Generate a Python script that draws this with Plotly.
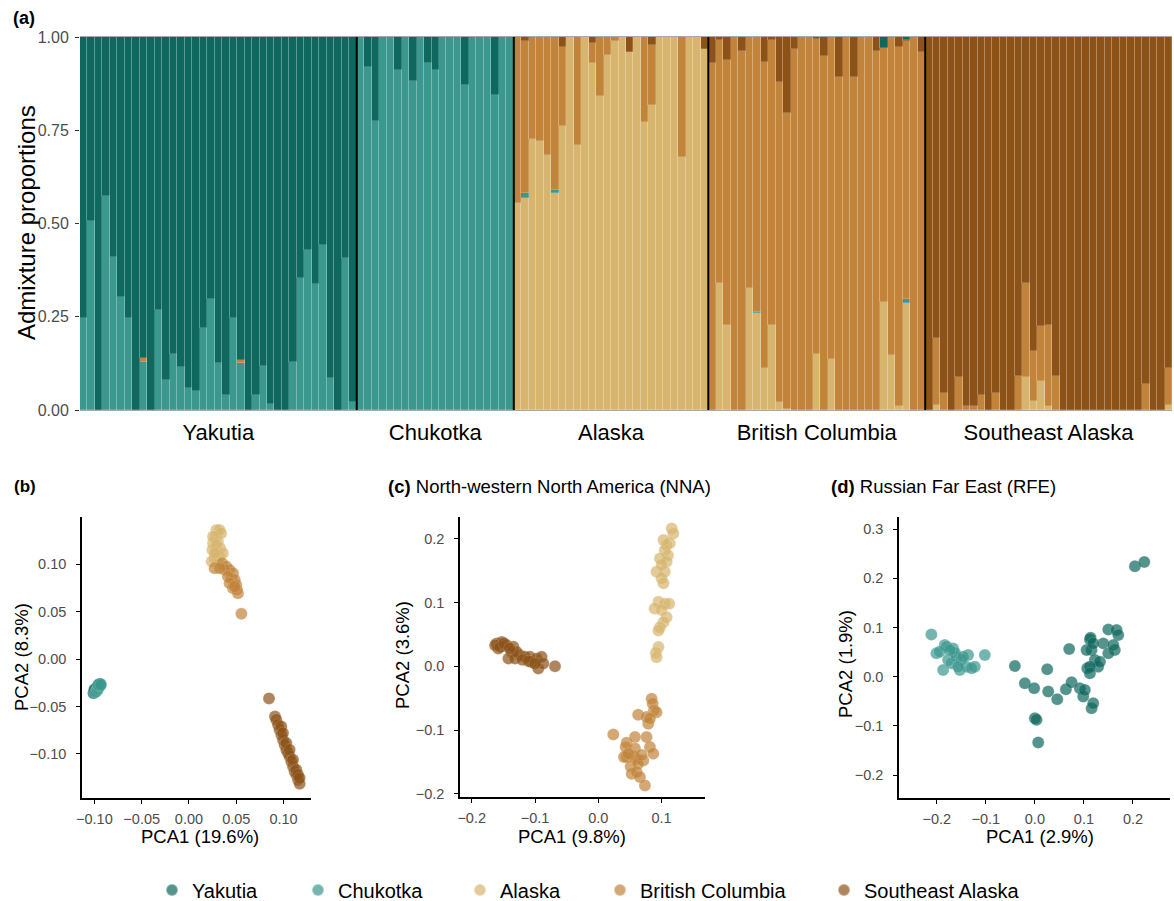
import plotly.graph_objects as go

W, H = 1174, 901
FONT = "Liberation Sans, Arial, sans-serif"

# ---------------- colours ----------------
C_YAK = "#0E685E"
C_CHUK = "#3A988E"
C_ALA = "#D7B56E"
C_BC = "#C1843A"
C_SEA = "#8C5218"

# ---------------- panel (a): admixture ----------------
groups = ["Yakutia", "Chukotka", "Alaska", "British Columbia", "Southeast Alaska"]
group_sizes = [37, 21, 26, 29, 33]

q_alaska = (
    [0] * 37
    + [0] * 21
    + [0.554, 0.569, 0.726, 0.722, 0.684, 0.583, 0.761, 1.0, 0.71, 1.0, 0.929, 0.842, 0.952,
       0.99, 1.0, 0.959, 1.0, 0.771, 0.817, 1.0, 1.0, 1.0, 0.679, 1.0, 1.0, 0.967]
    + [0, 0.341, 0.228, 0, 0, 0.326, 0.259, 0.112, 0.228, 0.022, 0.003, 0, 0, 0, 0.15, 0,
       0.137, 0, 0, 0, 0, 0, 0, 0.289, 0.147, 0.011, 0.288, 0, 0]
    + [0, 0.013, 0, 0, 0, 0, 0, 0, 0, 0, 0, 0, 0, 0.089, 0.024, 0.078, 0.011, 0, 0, 0, 0, 0,
       0, 0, 0, 0, 0, 0, 0, 0, 0, 0, 0.013]
)
q_chukotka = (
    [0.246, 0.507, 0, 0.575, 0.411, 0.304, 0.248, 0, 0.128, 0, 0.268, 0.08, 0.15, 0.116, 0.058,
     0.052, 0.219, 0.297, 0.125, 0.04, 0.248, 0.125, 0, 0.04, 0.119, 0.015, 0, 0, 0.128, 0.353,
     0.429, 0.338, 0.442, 0.085, 0, 0.407, 0.022]
    + [1, 0.92, 0.776, 1, 1, 0.912, 1, 0.883, 1, 0.93, 0.912, 1, 1, 1, 0.871, 1, 1, 1, 0.845, 1, 1]
    + [0, 0.012, 0, 0, 0, 0.008, 0, 0, 0, 0, 0, 0, 0, 0, 0, 0, 0, 0, 0, 0, 0, 0, 0, 0, 0, 0]
    + [0, 0, 0, 0, 0, 0, 0.005, 0, 0, 0, 0, 0, 0, 0, 0, 0, 0, 0, 0, 0, 0, 0, 0, 0, 0, 0, 0.009, 0, 0]
    + [0] * 33
)
q_bc = (
    [0, 0, 0, 0, 0, 0, 0, 0, 0.012, 0, 0, 0, 0, 0, 0, 0, 0, 0, 0, 0, 0, 0.008, 0, 0, 0, 0, 0,
     0, 0, 0, 0, 0, 0, 0, 0, 0, 0]
    + [0] * 21
    + [0.446, 0.409, 0.274, 0.278, 0.316, 0.409, 0.211, 0, 0.29, 0, 0.056, 0.158, 0.048, 0.01,
       0, 0, 0, 0.229, 0.162, 0, 0, 0, 0.321, 0, 0, 0]
    + [0.929, 0.651, 0.71, 1.0, 0.963, 0.674, 0.736, 0.82, 0.764, 0.858, 0.794, 0.968, 1.0, 1.0,
       0.844, 0.95, 0.863, 0.892, 1.0, 0.892, 1.0, 1.0, 0.963, 0.681, 0.853, 0.961, 0.693, 1.0, 0.959]
    + [0, 0.179, 0.046, 0, 0.089, 0.011, 0.01, 0.04, 0, 0.045, 0, 0, 0.092, 0.252, 0.134, 0.147,
       0.217, 0.092, 0, 0, 0, 0, 0, 0, 0, 0, 0, 0, 0, 0.071, 0, 0, 0.1]
)
q_sea = (
    [0] * 37
    + [0] * 21
    + [0, 0.01, 0, 0, 0, 0, 0.028, 0, 0, 0, 0.015, 0, 0, 0, 0, 0.041, 0, 0, 0.021, 0, 0, 0, 0,
       0, 0, 0.033]
    + [0.071, 0.008, 0.062, 0, 0.037, 0, 0, 0.068, 0.008, 0.12, 0.203, 0.032, 0, 0, 0.006, 0.05,
       0, 0.108, 0, 0.108, 0, 0, 0.037, 0, 0, 0.028, 0.003, 0, 0.041]
    + [1, 0.808, 0.954, 1, 0.911, 0.989, 0.99, 0.96, 1, 0.955, 1, 1, 0.908, 0.659, 0.842, 0.775,
       0.772, 0.908, 1, 1, 1, 1, 1, 1, 1, 1, 1, 1, 1, 0.929, 1, 1, 0.887]
)
q_yakutia = (
    [0.754, 0.493, 1.0, 0.425, 0.589, 0.696, 0.752, 1.0, 0.86, 1.0, 0.732, 0.92, 0.85, 0.884,
     0.942, 0.948, 0.781, 0.703, 0.875, 0.96, 0.752, 0.867, 1.0, 0.96, 0.881, 0.985, 1.0, 1.0,
     0.872, 0.647, 0.571, 0.662, 0.558, 0.915, 1.0, 0.593, 0.978]
    + [0, 0.08, 0.224, 0, 0, 0.088, 0, 0.117, 0, 0.07, 0.088, 0, 0, 0, 0.129, 0, 0, 0, 0.155, 0, 0]
    + [0] * 26
    + [0, 0, 0, 0, 0, 0, 0, 0, 0, 0, 0, 0, 0, 0, 0, 0, 0, 0, 0, 0, 0, 0, 0, 0.03, 0, 0, 0.007, 0, 0]
    + [0] * 33
)

# ---------------- PCA (b): all populations ----------------
b_yak_x = [-0.101, -0.100, -0.099, -0.098, -0.097, -0.096, -0.095, -0.094, -0.100, -0.097]
b_yak_y = [-0.036, -0.034, -0.033, -0.031, -0.030, -0.029, -0.027, -0.026, -0.032, -0.033]
b_chuk_x = [-0.099, -0.098, -0.097, -0.096, -0.095, -0.094, -0.096, -0.093]
b_chuk_y = [-0.035, -0.034, -0.032, -0.031, -0.029, -0.028, -0.027, -0.027]
b_ala_x = [0.029, 0.0324, 0.0282, 0.0306, 0.0254, 0.0331, 0.029, 0.0247, 0.0324, 0.0271, 0.0306,
           0.024, 0.034, 0.0254, 0.029, 0.0359, 0.0271]
b_ala_y = [0.1364, 0.1364, 0.1294, 0.124, 0.1223, 0.117, 0.1136, 0.1153, 0.1083, 0.1065, 0.103,
           0.103, 0.1329, 0.1294, 0.1206, 0.1118, 0.1118]
b_bc_x = [0.0271, 0.0352, 0.0394, 0.0429, 0.0465, 0.0447, 0.0483, 0.05, 0.0465, 0.0518, 0.0554,
          0.0377, 0.0412, 0.0508, 0.0324, 0.0429, 0.0483]
b_bc_y = [0.096, 0.1013, 0.0978, 0.0942, 0.0907, 0.0854, 0.0837, 0.0784, 0.0749, 0.0696, 0.0478,
          0.0942, 0.0872, 0.0731, 0.096, 0.0802, 0.0766]
b_sea_x = [0.0846, 0.0909, 0.0923, 0.0941, 0.0958, 0.0976, 0.0994, 0.1011, 0.1029, 0.1047, 0.1064,
           0.1082, 0.11, 0.1117, 0.1135, 0.1153, 0.117, 0.0976, 0.0994, 0.1029, 0.1064, 0.11,
           0.1135, 0.1153, 0.117]
b_sea_y = [-0.0415, -0.0605, -0.064, -0.0693, -0.0746, -0.0799, -0.0851, -0.0904, -0.0957,
           -0.0992, -0.1027, -0.108, -0.1133, -0.1186, -0.1221, -0.1273, -0.1315, -0.0711,
           -0.0781, -0.0886, -0.0957, -0.1062, -0.1168, -0.1221, -0.1256]

# ---------------- PCA (c): NNA ----------------
c_ala_x = [0.116, 0.1185, 0.113, 0.108, 0.105, 0.11, 0.0975, 0.108, 0.092, 0.105, 0.1, 0.103,
           0.095, 0.105, 0.112, 0.089, 0.1, 0.108, 0.103, 0.0975, 0.095, 0.095, 0.091, 0.092,
           0.103, 0.1]
c_ala_y = [0.216, 0.208, 0.193, 0.19, 0.182, 0.174, 0.169, 0.164, 0.148, 0.148, 0.138, 0.13,
           0.101, 0.098, 0.098, 0.0905, 0.088, 0.077, 0.069, 0.061, 0.056, 0.03, 0.021, 0.014,
           0.198, 0.159]
c_bc_x = [0.0843, 0.0859, 0.088, 0.063, 0.092, 0.079, 0.0763, 0.0237, 0.0448, 0.058, 0.0763,
          0.0432, 0.0448, 0.0553, 0.0606, 0.0711, 0.0816, 0.0869, 0.0511, 0.063, 0.0527, 0.0606,
          0.0658, 0.0737, 0.0406, 0.0816, 0.058, 0.0474, 0.0685]
c_bc_y = [-0.0508, -0.0586, -0.069, -0.076, -0.072, -0.09, -0.0796, -0.107, -0.12, -0.111,
          -0.111, -0.1267, -0.1424, -0.1413, -0.145, -0.1476, -0.1267, -0.137, -0.157, -0.1528,
          -0.1685, -0.1659, -0.1738, -0.1868, -0.1424, -0.082, -0.129, -0.137, -0.139]
c_sea_x = [-0.1605, -0.1526, -0.158, -0.1447, -0.134, -0.137, -0.142, -0.1316, -0.1237, -0.129,
           -0.1158, -0.108, -0.1053, -0.0974, -0.0895, -0.0948, -0.0869, -0.0684, -0.163,
           -0.155, -0.149, -0.14, -0.12, -0.11, -0.1]
c_sea_y = [0.0356, 0.038, 0.0277, 0.033, 0.0304, 0.0225, 0.012, 0.012, 0.0173, 0.0225, 0.0147,
           0.0147, 0.0068, 0.012, 0.0147, -0.0037, 0.0042, 0.0, 0.033, 0.03, 0.036, 0.028,
           0.01, 0.008, 0.004]

# ---------------- PCA (d): RFE ----------------
d_chuk_x = [-0.211, -0.2007, -0.1837, -0.18, -0.1667, -0.1769, -0.187, -0.153, -0.17, -0.16,
            -0.136, -0.1395, -0.1224, -0.102, -0.194, -0.163, -0.15, -0.1735, -0.1565, -0.146,
            -0.129]
d_chuk_y = [0.0858, 0.0473, 0.0642, 0.0608, 0.0574, 0.0338, 0.0135, 0.0135, 0.027, 0.0405,
            0.0439, 0.0203, 0.0203, 0.0439, 0.0507, 0.0486, 0.0338, 0.054, 0.0203, 0.0405, 0.017]
d_yak_x = [-0.0408, -0.0204, -0.0014, 0.0252, 0.0272, 0.0456, 0.0633, 0.07, 0.0748, 0.0918,
           0.0986, 0.102, 0.1156, 0.119, 0.1068, 0.1122, 0.1156, 0.1224, 0.129, 0.1327, 0.1395,
           0.1497, 0.1667, 0.17, 0.163, 0.1497, 0.16, 0.1122, 0.1122, 0.0, 0.0034, 0.0068, 0.204,
           0.2231, 0.1136, 0.1054, 0.119]
d_yak_y = [0.0216, -0.0135, -0.0236, 0.0149, -0.0304, -0.0459, -0.0257, 0.0561, -0.0115, -0.0236,
           -0.0405, -0.027, -0.0642, -0.054, 0.0169, 0.0757, 0.054, 0.0338, 0.0203, 0.0304, 0.0676,
           0.0959, 0.0946, 0.0845, 0.054, 0.0473, 0.0642, 0.0203, 0.0068, -0.0845, -0.0878,
           -0.1338, 0.2243, 0.2331, 0.079, 0.054, 0.0676]

# legend dot positions (pixels) for the shared bottom legend
legend_dot_px = [172, 318, 480, 620, 844]

# ---------------- helpers ----------------
def px(x):
    return x / W


def py(y):
    return 1 - y / H


fig = go.Figure()

# ---- admixture bars ----
individuals = list(range(sum(group_sizes)))
bar_series = [
    (q_alaska, C_ALA, "Alaska"),
    (q_chukotka, C_CHUK, "Chukotka"),
    (q_bc, C_BC, "British Columbia"),
    (q_sea, C_SEA, "Southeast Alaska"),
    (q_yakutia, C_YAK, "Yakutia"),
]
for vals, col, name in bar_series:
    fig.add_trace(go.Bar(
        x=individuals, y=vals, name=name, marker=dict(color=col,
        line=dict(color="rgba(255,255,255,0.3)", width=0.6)),
        width=1, showlegend=False, xaxis="x", yaxis="y", hoverinfo="skip"))

# group centres / boundaries from counts
centres, bounds = [], []
start = 0
for n in group_sizes:
    centres.append(start + (n - 1) / 2)
    start += n
    bounds.append(start - 0.5)

for b in bounds[:-1]:
    fig.add_shape(type="line", xref="x", yref="y", x0=b, x1=b, y0=0, y1=1,
                  line=dict(color="black", width=2))

# ---- PCA scatter panels ----
MS = 12
OP = 0.7
legend_names = {"Yakutia": "legend", "Chukotka": "legend2", "Alaska": "legend3",
                "British Columbia": "legend4", "Southeast Alaska": "legend5"}


def pts(x, y, col, name, xa, ya, legend):
    fig.add_trace(go.Scatter(
        x=x, y=y, mode="markers", name=name, legendgroup=name, showlegend=legend,
        legend=legend_names[name],
        marker=dict(color=col, size=MS, opacity=OP,
                    line=dict(width=0.6, color="rgba(255,255,255,0.35)")),
        xaxis=xa, yaxis=ya))


pts(b_yak_x, b_yak_y, C_YAK, "Yakutia", "x2", "y2", True)
pts(b_chuk_x, b_chuk_y, C_CHUK, "Chukotka", "x2", "y2", True)
pts(b_ala_x, b_ala_y, C_ALA, "Alaska", "x2", "y2", True)
pts(b_bc_x, b_bc_y, C_BC, "British Columbia", "x2", "y2", True)
pts(b_sea_x, b_sea_y, C_SEA, "Southeast Alaska", "x2", "y2", True)

pts(c_ala_x, c_ala_y, C_ALA, "Alaska", "x3", "y3", False)
pts(c_bc_x, c_bc_y, C_BC, "British Columbia", "x3", "y3", False)
pts(c_sea_x, c_sea_y, C_SEA, "Southeast Alaska", "x3", "y3", False)

pts(d_yak_x, d_yak_y, C_YAK, "Yakutia", "x4", "y4", False)
pts(d_chuk_x, d_chuk_y, C_CHUK, "Chukotka", "x4", "y4", False)

TICKFONT = dict(family=FONT, size=14.5, color="#4d4d4d")


def pca_axis(domain, rng, vals, fmt, anchor, standoff):
    return dict(domain=domain, range=rng, tickvals=vals, tickformat=fmt, anchor=anchor,
                showline=True, linecolor="black", linewidth=1.6, ticks="outside",
                ticklen=4, tickwidth=1.2, tickcolor="black", showgrid=False, zeroline=False,
                tickfont=TICKFONT, ticklabelstandoff=standoff, automargin=False)


def legend_box(dot_x):
    return dict(orientation="h", x=px(dot_x - 20), xanchor="left", y=py(890), yanchor="middle",
                font=dict(family=FONT, size=20, color="black"), itemsizing="constant",
                itemwidth=30, bgcolor="rgba(0,0,0,0)", borderwidth=0)


fig.update_layout(
    width=W, height=H, margin=dict(l=0, r=0, t=0, b=0, autoexpand=False),
    plot_bgcolor="white", paper_bgcolor="white",
    barmode="stack", bargap=0,
    font=dict(family=FONT, color="black"),
    xaxis=dict(domain=[px(80), px(1172)], range=[-0.5, sum(group_sizes) - 0.5],
               tickvals=centres, ticktext=groups, ticks="", showgrid=False, zeroline=False,
               tickfont=dict(family=FONT, size=22, color="black"), ticklabelstandoff=3,
               showline=True, mirror=True, linecolor="#a8a8a8", linewidth=1, anchor="y",
               automargin=False),
    yaxis=dict(domain=[py(410), py(37)], range=[0, 1], tickvals=[0, 0.25, 0.5, 0.75, 1],
               tickformat=".2f", ticks="outside", ticklen=4, tickcolor="#333333", tickwidth=1.2,
               showgrid=False, zeroline=False, tickfont=dict(family=FONT, size=16, color="#4d4d4d"),
               anchor="x", ticklabelstandoff=3, automargin=False),
    xaxis2=pca_axis([px(82), px(311)], [-0.1131, 0.129], [-0.10, -0.05, 0.0, 0.05, 0.10], ".2f", "y2", 3),
    yaxis2=pca_axis([py(798), py(517)], [-0.1466, 0.150], [-0.10, -0.05, 0.0, 0.05, 0.10], ".2f", "x2", 7),
    xaxis3=pca_axis([px(460), px(705)], [-0.2185, 0.1686], [-0.2, -0.1, 0.0, 0.1], ".1f", "y3", 3),
    yaxis3=pca_axis([py(797), py(517)], [-0.205, 0.234], [-0.2, -0.1, 0.0, 0.1, 0.2], ".1f", "x3", 7),
    xaxis4=pca_axis([px(899), px(1170)], [-0.277, 0.2755], [-0.2, -0.1, 0.0, 0.1, 0.2], ".1f", "y4", 3),
    yaxis4=pca_axis([py(798), py(517)], [-0.2467, 0.3245], [-0.2, -0.1, 0.0, 0.1, 0.2, 0.3], ".1f", "x4", 7),
    legend=legend_box(legend_dot_px[0]),
    legend2=legend_box(legend_dot_px[1]),
    legend3=legend_box(legend_dot_px[2]),
    legend4=legend_box(legend_dot_px[3]),
    legend5=legend_box(legend_dot_px[4]),
)


def ann(text, x, y, size, xanchor="center", angle=0, yanchor="middle"):
    fig.add_annotation(text=text, x=px(x), y=py(y), xref="paper", yref="paper",
                       showarrow=False, xanchor=xanchor, yanchor=yanchor, textangle=angle,
                       font=dict(family=FONT, size=size, color="black"))


ann("<b>(a)</b>", 11, 18, 18, xanchor="left")
ann("Admixture proportions", 27, 223, 24, angle=-90)
ann("<b>(b)</b>", 12, 486, 17, xanchor="left")
ann("<b>(c)</b> North-western North America (NNA)", 386, 486, 18.5, xanchor="left")
ann("<b>(d)</b> Russian Far East (RFE)", 829, 486, 18.5, xanchor="left")

ann("PCA1 (19.6%)", 200, 836, 18.5)
ann("PCA2 (8.3%)", 21, 657, 18.5, angle=-90)
ann("PCA1 (9.8%)", 572, 836, 18.5)
ann("PCA2 (3.6%)", 402, 655, 18.5, angle=-90)
ann("PCA1 (2.9%)", 1040, 836, 18.5)
ann("PCA2 (1.9%)", 845, 664, 18.5, angle=-90)

fig.write_html("out.html", config={"displayModeBar": False},
               post_script="document.body.style.margin='0';document.body.style.overflow='hidden';")
